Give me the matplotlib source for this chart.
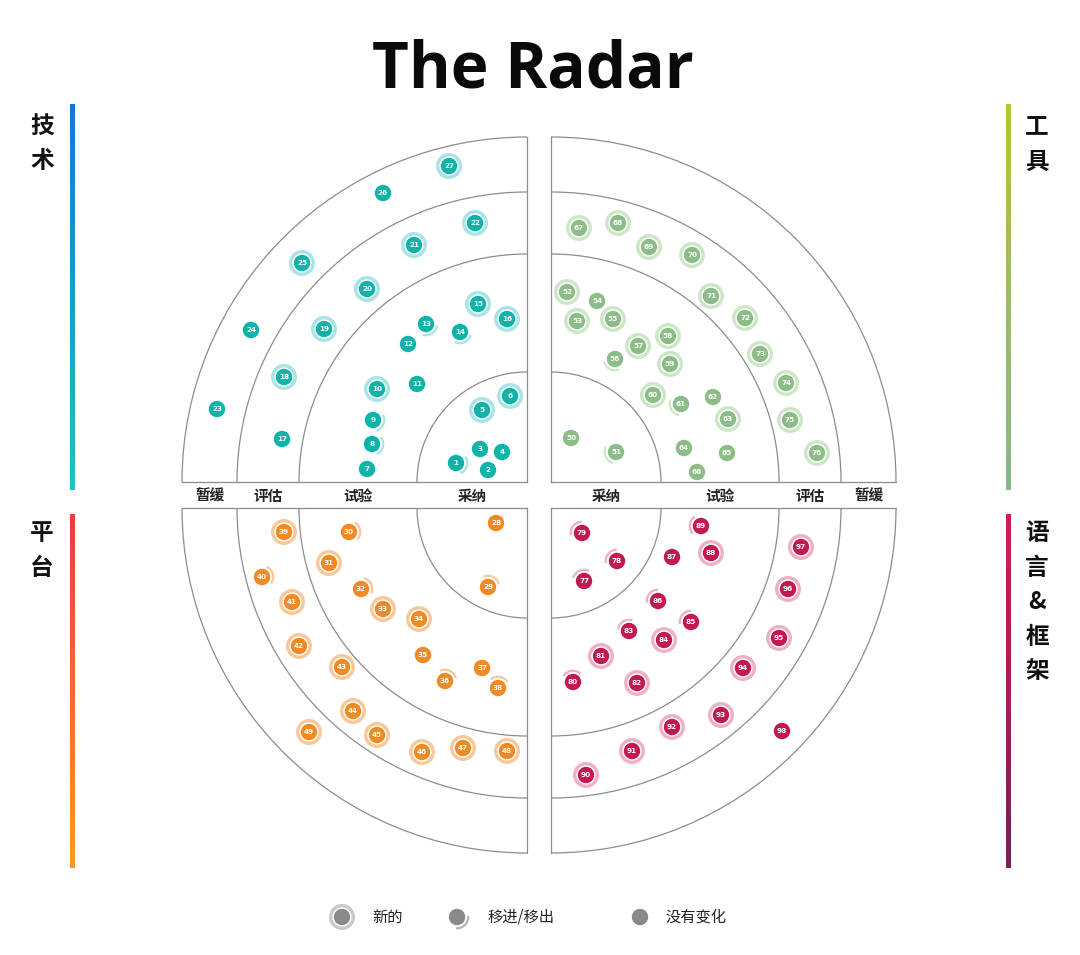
import math
import numpy as np
import matplotlib
matplotlib.use("Agg")
import matplotlib.pyplot as plt
from matplotlib.patches import Circle, Arc

plt.rcParams['font.family'] = ['Noto Sans CJK SC', 'DejaVu Sans']

# ---------------- data ----------------
title = "The Radar"
quadrant_names = ["技术", "工具", "平台", "语言&框架"]
ring_names = ["采纳", "试验", "评估", "暂缓"]
legend_labels = ["新的", "移进/移出", "没有变化"]

# blips: number, offset from quadrant origin (outward distance x, outward distance y), status
# status: n = new, m = moved in/out, c = no change
tech_ids = list(range(1, 28))
tech_dx = [71, 39, 47, 25, 45, 17, 160, 155, 154, 150, 110, 119, 101, 67, 49, 20,
           245, 243, 203, 160, 113, 52, 310, 276, 225, 144, 78]
tech_dy = [19, 12, 33, 30, 72, 86, 13, 38, 62, 93, 98, 138, 158, 150, 178, 163,
           43, 105, 153, 193, 237, 259, 73, 152, 219, 289, 316]
tech_st = list("mcccnncmmnccmmnncnnnnnccncn")

tool_ids = list(range(50, 77))
tool_dx = [20, 65, 16, 26, 46, 62, 64, 87, 117, 119, 102, 130, 162, 177, 133, 176, 146,
           28, 67, 98, 141, 160, 194, 209, 235, 239, 266]
tool_dy = [44, 30, 190, 161, 181, 163, 123, 136, 146, 118, 87, 78, 85, 63, 34, 29, 10,
           254, 259, 235, 227, 186, 164, 128, 99, 62, 29]
tool_st = list("cmnncnmnnnnmcncccnnnnnnnnnn")

plat_ids = list(range(28, 50))
plat_dx = [31, 39, 178, 198, 166, 144, 108, 104, 82, 45, 29,
           243, 265, 235, 228, 185, 174, 150, 105, 64, 20, 218]
plat_dy = [15, 79, 24, 55, 81, 101, 111, 147, 173, 160, 180,
           24, 69, 94, 138, 159, 203, 227, 244, 240, 243, 224]
plat_st = list("cmmnmnncmcmnmnnnnnnnnn")

lang_ids = list(range(77, 99))
lang_dx = [33, 66, 31, 22, 50, 86, 78, 113, 140, 107, 121, 160, 150,
           35, 81, 121, 170, 192, 228, 237, 250, 231]
lang_dy = [73, 53, 25, 174, 148, 175, 123, 132, 114, 93, 49, 45, 18,
           267, 243, 219, 207, 160, 130, 81, 39, 223]
lang_st = list("mmmmnnmnmmcnmnnnnnnnnc")

# ---------------- style ----------------
W, H = 1080, 955
ring_r = [110, 228, 290, 345]
origins = [(527, 482), (551, 482), (527, 508), (551, 508)]   # TL, TR, BL, BR
signs = [(-1, -1), (1, -1), (-1, 1), (1, 1)]
core_col = ['#0fb3a9', '#8cbd88', '#f08a24', '#c21a50']
light_col = ['#a8e4e6', '#cde6c7', '#f8c89a', '#efb0c5']
bar_cols = [('#1876d3', '#27bdc9'), ('#b8c23a', '#86b88c'),
            ('#e5403a', '#f89a2b'), ('#c8205a', '#7a1f55')]
line_col = '#8c8c8c'

fig = plt.figure(figsize=(W / 100, H / 100), dpi=100)
ax = fig.add_axes([0, 0, 1, 1])
ax.set_xlim(0, W)
ax.set_ylim(H, 0)
ax.set_aspect('equal')
ax.axis('off')

# title
ax.text(533, 71, title, ha='center', va='center', fontsize=46,
        fontweight='bold', family=['Open Sans', 'DejaVu Sans'], color='#0a0a0a')

# quadrant rings
for q, (ox, oy) in enumerate(origins):
    sx, sy = signs[q]
    if sx < 0 and sy < 0:
        t1, t2 = 180, 270
    elif sx > 0 and sy < 0:
        t1, t2 = 270, 360
    elif sx < 0 and sy > 0:
        t1, t2 = 90, 180
    else:
        t1, t2 = 0, 90
    for r in ring_r:
        ax.add_patch(Arc((ox, oy), 2 * r, 2 * r, theta1=t1, theta2=t2,
                         color=line_col, lw=0.9))
    ax.plot([ox, ox], [oy, oy + sy * ring_r[-1]], color=line_col, lw=0.9)
    ax.plot([ox, ox + sx * ring_r[-1]], [oy, oy], color=line_col, lw=0.9)

# ring labels
inner = [0] + ring_r[:-1]
for q in (0, 1):
    ox, oy = origins[q]
    sx, _ = signs[q]
    for name, r0, r1 in zip(ring_names, inner, ring_r):
        ax.text(ox + sx * (r0 + r1) / 2, 496, name, ha='center', va='center',
                fontsize=10.5, fontweight='bold', color='#222222')

# side bars and quadrant names
bars = [(72, 105, 490), (1008, 105, 490), (72, 515, 868), (1008, 515, 868)]
name_x = [42, 1037, 42, 1037]
name_y0 = [127, 127, 533, 533]
for q, (bx, y0, y1) in enumerate(bars):
    c0 = np.array(matplotlib.colors.to_rgb(bar_cols[q][0]))
    c1 = np.array(matplotlib.colors.to_rgb(bar_cols[q][1]))
    t = np.linspace(0, 1, 200)[:, None]
    grad = (c0 * (1 - t) + c1 * t)[:, None, :]
    ax.imshow(grad, extent=(bx - 2.2, bx + 2.2, y1, y0), aspect='auto',
              interpolation='bilinear', zorder=2)
    for k, ch in enumerate(quadrant_names[q]):
        ax.text(name_x[q], name_y0[q] + k * 34.5, ch, ha='center', va='center',
                fontsize=17, fontweight='bold', color='#111111')

ax.set_xlim(0, W)
ax.set_ylim(H, 0)


def draw_blip(x, y, label, status, core, light, toward=None, fs=5.2):
    if status == 'n':
        ax.add_patch(Circle((x, y), 11.3, facecolor='white', edgecolor=light,
                            lw=2.4, zorder=4))
    elif status == 'm' and toward is not None:
        ax.add_patch(Arc((x, y), 22.5, 22.5, theta1=toward - 50, theta2=toward + 50,
                         color=light, lw=1.6, zorder=4))
    ax.add_patch(Circle((x, y), 8.2, facecolor=core, edgecolor='none', zorder=5))
    if label is not None:
        ax.text(x, y + 0.3, str(label), ha='center', va='center', fontsize=fs,
                color='white', fontweight='bold', zorder=6,
                family=['DejaVu Sans'])


quads = [(tech_ids, tech_dx, tech_dy, tech_st),
         (tool_ids, tool_dx, tool_dy, tool_st),
         (plat_ids, plat_dx, plat_dy, plat_st),
         (lang_ids, lang_dx, lang_dy, lang_st)]
for q, (ids, dxs, dys, sts) in enumerate(quads):
    ox, oy = origins[q]
    sx, sy = signs[q]
    for i, dx, dy, st in zip(ids, dxs, dys, sts):
        x, y = ox + sx * dx, oy + sy * dy
        ang = math.degrees(math.atan2(oy - y, ox - x))
        draw_blip(x, y, i, st, core_col[q], light_col[q], toward=ang)

# legend
lg_y = 917
draw_blip(342, lg_y, None, 'n', '#8a8a8a', '#c9c9c9')
draw_blip(457, lg_y, None, 'm', '#8a8a8a', '#b5b5b5', toward=45)
draw_blip(640, lg_y, None, 'c', '#8a8a8a', '#c9c9c9')
ax.text(372, lg_y, legend_labels[0], ha='left', va='center', fontsize=11, color='#222222')
ax.text(487, lg_y, legend_labels[1], ha='left', va='center', fontsize=11, color='#222222')
ax.text(666, lg_y, legend_labels[2], ha='left', va='center', fontsize=11, color='#222222')

fig.savefig('out.png', dpi=100)
